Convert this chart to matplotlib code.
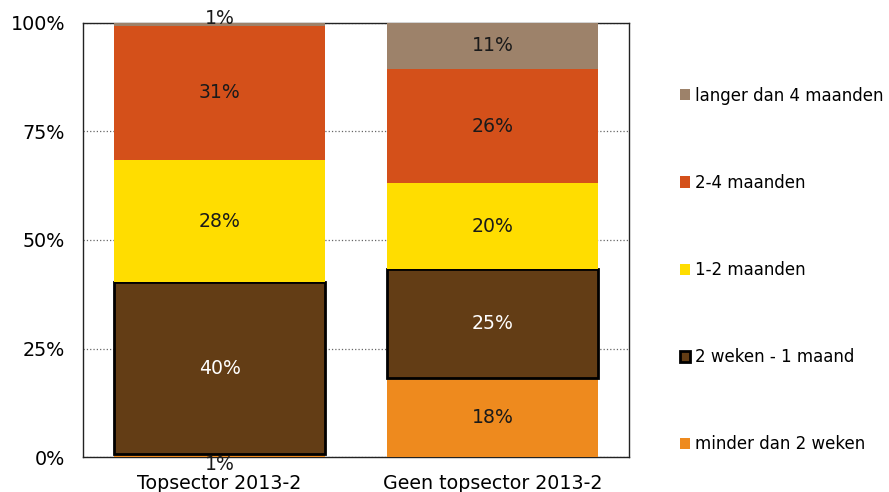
import matplotlib.pyplot as plt
import numpy as np

categories = ['Topsector 2013-2', 'Geen topsector 2013-2']
series = ['minder dan 2 weken', '2 weken - 1 maand', '1-2 maanden',
          '2-4 maanden', 'langer dan 4 maanden']
values = {
    'minder dan 2 weken': [0.6, 18.2],
    '2 weken - 1 maand': [39.7, 25.1],
    '1-2 maanden': [28.1, 19.8],
    '2-4 maanden': [31.0, 26.3],
    'langer dan 4 maanden': [0.6, 10.6],
}
colors = ['#EE8A1E', '#633D15', '#FFDD00', '#D4501A', '#9D826A']
text_colors = ['#1a1a1a', 'white', '#1a1a1a', '#1a1a1a', '#1a1a1a']

plt.rcParams['font.family'] = 'DejaVu Sans'
fig = plt.figure(figsize=(8.89, 4.92), dpi=100)
ax = fig.add_axes([0.0934, 0.0711, 0.6141, 0.8822])

x = np.arange(len(categories))
bottom = np.zeros(len(categories))
handles = []
for i, name in enumerate(series):
    vals = np.array(values[name])
    edge = 'black' if name == '2 weken - 1 maand' else 'none'
    lw = 2 if edge == 'black' else 0
    bars = ax.bar(x, vals, 0.77, bottom=bottom, color=colors[i],
                  edgecolor=edge, linewidth=lw, zorder=3, label=name)
    handles.append(bars)
    for j, v in enumerate(vals):
        yc = bottom[j] + v / 2
        off = 0
        if v < 2:
            off = 4 if yc > 50 else -6
        ax.annotate('%.0f%%' % v, (x[j], yc), xytext=(0, off),
                    textcoords='offset points', ha='center', va='center',
                    fontsize=13.6, color=text_colors[i], zorder=4,
                    annotation_clip=False)
    bottom += vals

ax.set_xlim(-0.5, 1.5)
ax.set_ylim(0, 100)
ax.set_yticks([0, 25, 50, 75, 100])
ax.set_yticklabels(['0%', '25%', '50%', '75%', '100%'], fontsize=13.8)
ax.set_xticks(x)
ax.set_xticklabels(categories, fontsize=13.7)
ax.tick_params(axis='y', length=0, pad=13)
ax.tick_params(axis='x', length=0, pad=12)
ax.yaxis.grid(True, linestyle=':', color='#666666', linewidth=0.9, zorder=0)
for s in ax.spines.values():
    s.set_color('#222222')
    s.set_linewidth(1)

fig.legend(handles[::-1], series[::-1], loc='center left',
           bbox_to_anchor=(0.757, 1 - 270 / 492), frameon=False,
           fontsize=12, labelspacing=4.15, handlelength=0.65,
           handleheight=0.65, handletextpad=0.3, borderaxespad=0)

fig.savefig('out.png', dpi=100)
